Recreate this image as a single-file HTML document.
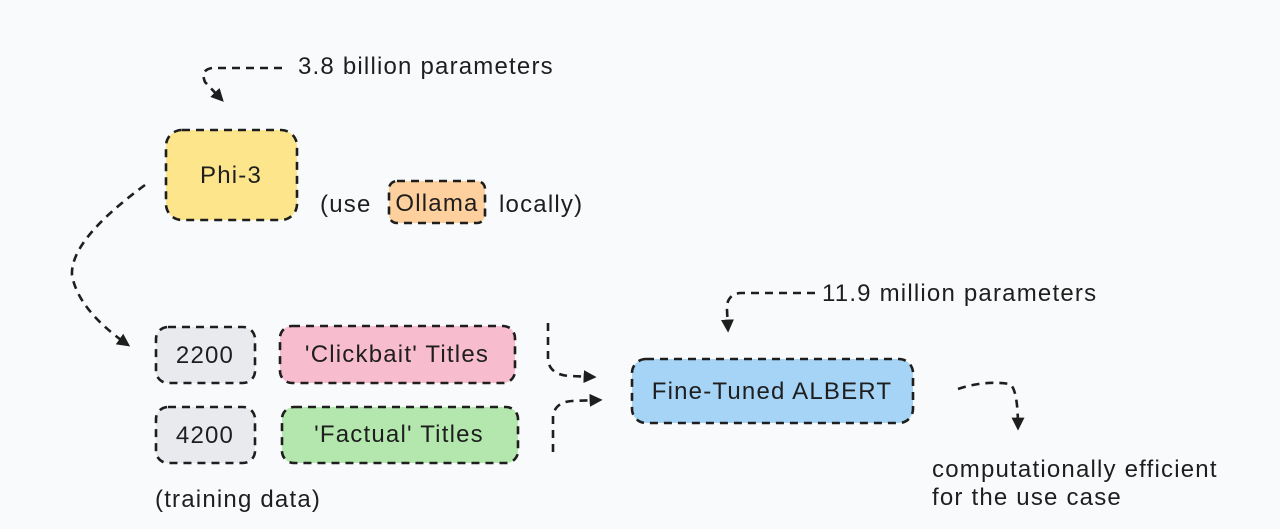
<!DOCTYPE html>
<html><head><meta charset="utf-8"><style>
html,body{margin:0;padding:0;background:#f9fafb;}
svg{display:block;}
text{font-family:"Liberation Sans",sans-serif;fill:#1e1e1e;letter-spacing:1.2px;}
</style></head><body>
<svg width="1280" height="529" viewBox="0 0 1280 529" xmlns="http://www.w3.org/2000/svg">
<rect width="1280" height="529" fill="#f9fafb"/>
<defs>
<marker id="ah" viewBox="0 0 10 10" refX="8" refY="5" markerWidth="5" markerHeight="5" orient="auto"><path d="M0,0 L10,5 L0,10 z" fill="#1e1e1e"/></marker>
</defs>
<g stroke="#1e1e1e" stroke-width="2.6" stroke-dasharray="8 6" fill="none">
<rect x="166" y="130" width="131" height="90" rx="16" fill="#fde58c"/>
<rect x="389" y="181" width="96" height="42" rx="8" fill="#fdd09d"/>
<rect x="156" y="327" width="99" height="56" rx="12" fill="#e9eaee"/>
<rect x="280" y="326" width="235" height="57" rx="12" fill="#f8bccf"/>
<rect x="156" y="407" width="99" height="56" rx="12" fill="#e9eaee"/>
<rect x="282" y="407" width="236" height="56" rx="12" fill="#b4e7ae"/>
<rect x="632" y="359" width="281" height="64" rx="14" fill="#a6d4f6"/>
<path d="M282,68 L212,68 Q200,70 205,82 L222,100" marker-end="url(#ah)"/>
<path d="M145,185 Q70,240 72,275 Q78,310 128,345" marker-end="url(#ah)"/>
<path d="M548,323 L548,360 Q550,375 570,376 L594,377" marker-end="url(#ah)"/>
<path d="M553,452 L553,415 Q556,402 572,401 L600,400" marker-end="url(#ah)"/>
<path d="M815,293 L740,293 Q726,295 727,310 L728,330" marker-end="url(#ah)"/>
<path d="M958,389 Q985,380 1010,384 Q1018,390 1018,428" marker-end="url(#ah)"/>
</g>
<g font-size="24">
<text x="298" y="74">3.8 billion parameters</text>
<text x="231" y="183" text-anchor="middle">Phi-3</text>
<text x="320" y="212">(use</text>
<text x="437" y="211" text-anchor="middle">Ollama</text>
<text x="499" y="212">locally)</text>
<text x="205" y="363" text-anchor="middle">2200</text>
<text x="397" y="362" text-anchor="middle">'Clickbait' Titles</text>
<text x="205" y="443" text-anchor="middle">4200</text>
<text x="399" y="442" text-anchor="middle">'Factual' Titles</text>
<text x="155" y="507">(training data)</text>
<text x="772" y="399" text-anchor="middle">Fine-Tuned ALBERT</text>
<text x="822" y="301">11.9 million parameters</text>
<text x="932" y="477">computationally efficient</text>
<text x="932" y="505">for the use case</text>
</g>
</svg>
</body></html>
